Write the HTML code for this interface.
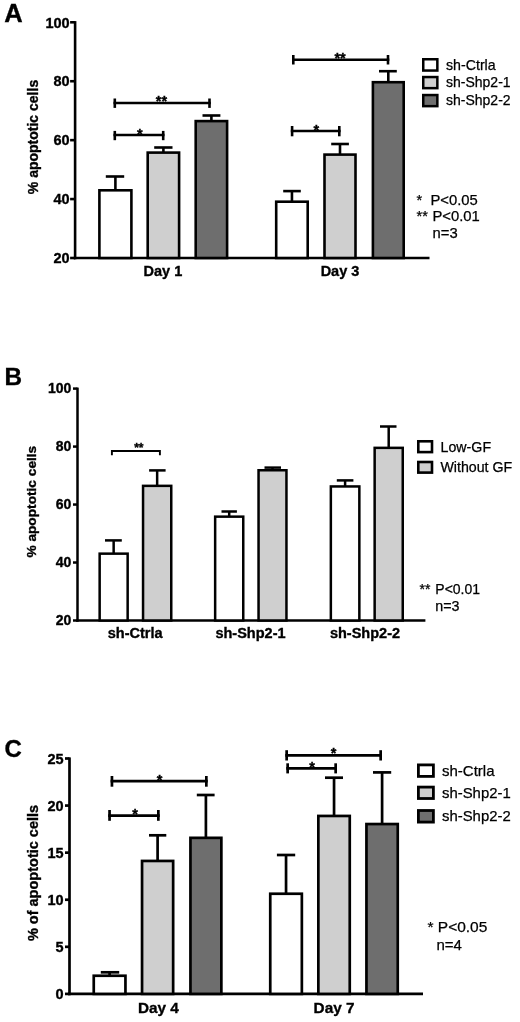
<!DOCTYPE html>
<html><head><meta charset="utf-8"><style>
html,body{margin:0;padding:0;background:#fff;}
svg{display:block;font-family:"Liberation Sans",sans-serif;}
#w{width:520px;height:1022px;overflow:hidden;filter:grayscale(1);}
text[font-weight="bold"]{stroke:#000;stroke-width:0.35px;}
text[font-weight="normal"]{stroke:#000;stroke-width:0.25px;}
</style></head><body><div id="w">
<svg width="520" height="1022" viewBox="0 0 520 1022">
<rect width="520" height="1022" fill="#fff"/>
<text x="4.20" y="21.90" font-size="25.5" font-weight="bold" text-anchor="start" >A</text>
<line x1="75.10" y1="21.10" x2="75.10" y2="259.30" stroke="#000" stroke-width="2.6" stroke-linecap="butt"/>
<line x1="70.10" y1="22.30" x2="75.10" y2="22.30" stroke="#000" stroke-width="2.6" stroke-linecap="butt"/>
<text x="69.60" y="27.50" font-size="14.5" font-weight="bold" text-anchor="end" >100</text>
<line x1="70.10" y1="81.22" x2="75.10" y2="81.22" stroke="#000" stroke-width="2.6" stroke-linecap="butt"/>
<text x="69.60" y="86.42" font-size="14.5" font-weight="bold" text-anchor="end" >80</text>
<line x1="70.10" y1="140.15" x2="75.10" y2="140.15" stroke="#000" stroke-width="2.6" stroke-linecap="butt"/>
<text x="69.60" y="145.35" font-size="14.5" font-weight="bold" text-anchor="end" >60</text>
<line x1="70.10" y1="199.07" x2="75.10" y2="199.07" stroke="#000" stroke-width="2.6" stroke-linecap="butt"/>
<text x="69.60" y="204.27" font-size="14.5" font-weight="bold" text-anchor="end" >40</text>
<line x1="70.10" y1="258.00" x2="75.10" y2="258.00" stroke="#000" stroke-width="2.6" stroke-linecap="butt"/>
<text x="69.60" y="263.20" font-size="14.5" font-weight="bold" text-anchor="end" >20</text>
<line x1="73.80" y1="258.00" x2="429.50" y2="258.00" stroke="#000" stroke-width="2.6" stroke-linecap="butt"/>
<line x1="115.40" y1="190.00" x2="115.40" y2="176.50" stroke="#000" stroke-width="2.6" stroke-linecap="butt"/>
<line x1="105.80" y1="176.50" x2="124.20" y2="176.50" stroke="#000" stroke-width="2.6" stroke-linecap="butt"/>
<line x1="163.40" y1="152.30" x2="163.40" y2="147.50" stroke="#000" stroke-width="2.6" stroke-linecap="butt"/>
<line x1="154.20" y1="147.50" x2="172.50" y2="147.50" stroke="#000" stroke-width="2.6" stroke-linecap="butt"/>
<line x1="211.40" y1="120.80" x2="211.40" y2="115.50" stroke="#000" stroke-width="2.6" stroke-linecap="butt"/>
<line x1="202.50" y1="115.50" x2="220.40" y2="115.50" stroke="#000" stroke-width="2.6" stroke-linecap="butt"/>
<line x1="291.95" y1="201.40" x2="291.95" y2="191.10" stroke="#000" stroke-width="2.6" stroke-linecap="butt"/>
<line x1="283.20" y1="191.10" x2="300.80" y2="191.10" stroke="#000" stroke-width="2.6" stroke-linecap="butt"/>
<line x1="340.00" y1="154.30" x2="340.00" y2="144.00" stroke="#000" stroke-width="2.6" stroke-linecap="butt"/>
<line x1="331.20" y1="144.00" x2="348.90" y2="144.00" stroke="#000" stroke-width="2.6" stroke-linecap="butt"/>
<line x1="388.30" y1="81.90" x2="388.30" y2="71.20" stroke="#000" stroke-width="2.6" stroke-linecap="butt"/>
<line x1="379.00" y1="71.20" x2="396.80" y2="71.20" stroke="#000" stroke-width="2.6" stroke-linecap="butt"/>
<rect x="99.40" y="190.30" width="32.00" height="67.70" fill="#fff" stroke="#000" stroke-width="2.6"/>
<rect x="147.70" y="152.60" width="31.40" height="105.40" fill="#cfcfcf" stroke="#000" stroke-width="2.6"/>
<rect x="195.70" y="121.10" width="31.40" height="136.90" fill="#6e6e6e" stroke="#000" stroke-width="2.6"/>
<rect x="276.20" y="201.70" width="31.50" height="56.30" fill="#fff" stroke="#000" stroke-width="2.6"/>
<rect x="324.50" y="154.60" width="31.00" height="103.40" fill="#cfcfcf" stroke="#000" stroke-width="2.6"/>
<rect x="372.90" y="82.20" width="30.80" height="175.80" fill="#6e6e6e" stroke="#000" stroke-width="2.6"/>
<line x1="113.50" y1="135.00" x2="164.50" y2="135.00" stroke="#000" stroke-width="2.6" stroke-linecap="butt"/>
<line x1="114.80" y1="130.90" x2="114.80" y2="140.20" stroke="#000" stroke-width="2.6" stroke-linecap="butt"/>
<line x1="163.20" y1="130.90" x2="163.20" y2="140.20" stroke="#000" stroke-width="2.6" stroke-linecap="butt"/>
<text x="139.80" y="138.52" font-size="14.5" font-weight="bold" text-anchor="middle" >*</text>
<line x1="113.50" y1="103.00" x2="210.80" y2="103.00" stroke="#000" stroke-width="2.6" stroke-linecap="butt"/>
<line x1="114.80" y1="98.50" x2="114.80" y2="107.90" stroke="#000" stroke-width="2.6" stroke-linecap="butt"/>
<line x1="209.50" y1="98.50" x2="209.50" y2="107.90" stroke="#000" stroke-width="2.6" stroke-linecap="butt"/>
<text x="161.50" y="105.92" font-size="14.5" font-weight="bold" text-anchor="middle" >**</text>
<line x1="290.80" y1="131.00" x2="340.60" y2="131.00" stroke="#000" stroke-width="2.6" stroke-linecap="butt"/>
<line x1="292.10" y1="126.00" x2="292.10" y2="136.30" stroke="#000" stroke-width="2.6" stroke-linecap="butt"/>
<line x1="339.30" y1="126.00" x2="339.30" y2="136.30" stroke="#000" stroke-width="2.6" stroke-linecap="butt"/>
<text x="316.40" y="134.62" font-size="14.5" font-weight="bold" text-anchor="middle" >*</text>
<line x1="292.00" y1="59.70" x2="389.30" y2="59.70" stroke="#000" stroke-width="2.6" stroke-linecap="butt"/>
<line x1="293.30" y1="55.00" x2="293.30" y2="64.50" stroke="#000" stroke-width="2.6" stroke-linecap="butt"/>
<line x1="388.00" y1="55.00" x2="388.00" y2="64.50" stroke="#000" stroke-width="2.6" stroke-linecap="butt"/>
<text x="340.10" y="62.92" font-size="14.5" font-weight="bold" text-anchor="middle" >**</text>
<text x="162.90" y="276.20" font-size="14.5" font-weight="bold" text-anchor="middle" >Day 1</text>
<text x="340.00" y="276.20" font-size="14.5" font-weight="bold" text-anchor="middle" >Day 3</text>
<text x="33.00" y="137.00" font-size="14" font-weight="bold" text-anchor="middle" transform="rotate(-90 33 137)" dy="5">% apoptotic cells</text>
<rect x="423.25" y="59.25" width="14.10" height="11.30" fill="#fff" stroke="#000" stroke-width="2.5"/>
<rect x="423.25" y="77.05" width="14.10" height="11.10" fill="#cfcfcf" stroke="#000" stroke-width="2.5"/>
<rect x="423.25" y="95.05" width="14.10" height="11.10" fill="#6e6e6e" stroke="#000" stroke-width="2.5"/>
<text x="446.00" y="69.60" font-size="14.2" font-weight="normal" text-anchor="start" >sh-Ctrla</text>
<text x="446.00" y="87.20" font-size="14.0" font-weight="normal" text-anchor="start" >sh-Shp2-1</text>
<text x="446.00" y="104.80" font-size="14.0" font-weight="normal" text-anchor="start" >sh-Shp2-2</text>
<text x="416.60" y="204.60" font-size="14.5" font-weight="normal" text-anchor="start" >*</text>
<text x="430.50" y="205.00" font-size="14.8" font-weight="normal" text-anchor="start" >P&lt;0.05</text>
<text x="416.60" y="221.00" font-size="14.5" font-weight="normal" text-anchor="start" >**</text>
<text x="432.50" y="221.30" font-size="14.8" font-weight="normal" text-anchor="start" >P&lt;0.01</text>
<text x="432.60" y="237.70" font-size="14.8" font-weight="normal" text-anchor="start" >n=3</text>
<text x="4.60" y="384.90" font-size="24.3" font-weight="bold" text-anchor="start" >B</text>
<line x1="77.50" y1="387.60" x2="77.50" y2="621.75" stroke="#000" stroke-width="2.5" stroke-linecap="butt"/>
<line x1="73.00" y1="388.60" x2="77.50" y2="388.60" stroke="#000" stroke-width="2.5" stroke-linecap="butt"/>
<text x="71.40" y="393.40" font-size="14" font-weight="bold" text-anchor="end" >100</text>
<line x1="73.00" y1="446.58" x2="77.50" y2="446.58" stroke="#000" stroke-width="2.5" stroke-linecap="butt"/>
<text x="71.40" y="451.38" font-size="14" font-weight="bold" text-anchor="end" >80</text>
<line x1="73.00" y1="504.55" x2="77.50" y2="504.55" stroke="#000" stroke-width="2.5" stroke-linecap="butt"/>
<text x="71.40" y="509.35" font-size="14" font-weight="bold" text-anchor="end" >60</text>
<line x1="73.00" y1="562.52" x2="77.50" y2="562.52" stroke="#000" stroke-width="2.5" stroke-linecap="butt"/>
<text x="71.40" y="567.32" font-size="14" font-weight="bold" text-anchor="end" >40</text>
<line x1="73.00" y1="620.50" x2="77.50" y2="620.50" stroke="#000" stroke-width="2.5" stroke-linecap="butt"/>
<text x="71.40" y="625.30" font-size="14" font-weight="bold" text-anchor="end" >20</text>
<line x1="76.25" y1="620.50" x2="425.40" y2="620.50" stroke="#000" stroke-width="2.5" stroke-linecap="butt"/>
<line x1="113.65" y1="553.40" x2="113.65" y2="540.40" stroke="#000" stroke-width="2.5" stroke-linecap="butt"/>
<line x1="105.00" y1="540.40" x2="121.80" y2="540.40" stroke="#000" stroke-width="2.5" stroke-linecap="butt"/>
<line x1="157.15" y1="485.60" x2="157.15" y2="470.40" stroke="#000" stroke-width="2.5" stroke-linecap="butt"/>
<line x1="149.10" y1="470.40" x2="165.60" y2="470.40" stroke="#000" stroke-width="2.5" stroke-linecap="butt"/>
<line x1="229.20" y1="516.40" x2="229.20" y2="511.50" stroke="#000" stroke-width="2.5" stroke-linecap="butt"/>
<line x1="221.50" y1="511.50" x2="236.90" y2="511.50" stroke="#000" stroke-width="2.5" stroke-linecap="butt"/>
<line x1="272.50" y1="470.00" x2="272.50" y2="467.60" stroke="#000" stroke-width="2.5" stroke-linecap="butt"/>
<line x1="264.50" y1="467.60" x2="281.00" y2="467.60" stroke="#000" stroke-width="2.5" stroke-linecap="butt"/>
<line x1="345.10" y1="486.20" x2="345.10" y2="480.40" stroke="#000" stroke-width="2.5" stroke-linecap="butt"/>
<line x1="336.80" y1="480.40" x2="353.40" y2="480.40" stroke="#000" stroke-width="2.5" stroke-linecap="butt"/>
<line x1="388.70" y1="447.60" x2="388.70" y2="426.50" stroke="#000" stroke-width="2.5" stroke-linecap="butt"/>
<line x1="380.00" y1="426.50" x2="396.50" y2="426.50" stroke="#000" stroke-width="2.5" stroke-linecap="butt"/>
<rect x="99.65" y="553.65" width="28.00" height="66.85" fill="#fff" stroke="#000" stroke-width="2.5"/>
<rect x="143.05" y="485.85" width="28.20" height="134.65" fill="#cfcfcf" stroke="#000" stroke-width="2.5"/>
<rect x="215.15" y="516.65" width="28.10" height="103.85" fill="#fff" stroke="#000" stroke-width="2.5"/>
<rect x="258.55" y="470.25" width="27.90" height="150.25" fill="#cfcfcf" stroke="#000" stroke-width="2.5"/>
<rect x="330.85" y="486.45" width="28.50" height="134.05" fill="#fff" stroke="#000" stroke-width="2.5"/>
<rect x="374.65" y="447.85" width="28.10" height="172.65" fill="#cfcfcf" stroke="#000" stroke-width="2.5"/>
<path d="M111.9 455.2 V451 H159.9 V455.2" fill="none" stroke="#000" stroke-width="1.9"/>
<text x="138.80" y="451.52" font-size="12" font-weight="bold" text-anchor="middle" >**</text>
<text x="135.20" y="638.30" font-size="14.5" font-weight="bold" text-anchor="middle" >sh-Ctrla</text>
<text x="250.50" y="638.30" font-size="14.5" font-weight="bold" text-anchor="middle" >sh-Shp2-1</text>
<text x="365.00" y="638.30" font-size="14.5" font-weight="bold" text-anchor="middle" >sh-Shp2-2</text>
<text x="30.80" y="501.70" font-size="13.7" font-weight="bold" text-anchor="middle" transform="rotate(-90 30.8 501.7)" dy="5">% apoptotic cells</text>
<rect x="418.30" y="441.30" width="13.70" height="10.80" fill="#fff" stroke="#000" stroke-width="2.6"/>
<rect x="418.30" y="462.00" width="13.70" height="10.60" fill="#cfcfcf" stroke="#000" stroke-width="2.6"/>
<text x="440.60" y="451.60" font-size="14.2" font-weight="normal" text-anchor="start" >Low-GF</text>
<text x="440.40" y="472.20" font-size="14.2" font-weight="normal" text-anchor="start" >Without GF</text>
<text x="419.60" y="594.20" font-size="14" font-weight="normal" text-anchor="start" >**</text>
<text x="435.30" y="594.20" font-size="14.0" font-weight="normal" text-anchor="start" >P&lt;0.01</text>
<text x="435.30" y="611.00" font-size="14.3" font-weight="normal" text-anchor="start" >n=3</text>
<text x="4.50" y="757.00" font-size="24" font-weight="bold" text-anchor="start" >C</text>
<line x1="69.50" y1="757.40" x2="69.50" y2="995.25" stroke="#000" stroke-width="2.7" stroke-linecap="butt"/>
<line x1="65.00" y1="758.50" x2="69.50" y2="758.50" stroke="#000" stroke-width="2.7" stroke-linecap="butt"/>
<text x="63.60" y="763.70" font-size="14.5" font-weight="bold" text-anchor="end" >25</text>
<line x1="65.00" y1="805.58" x2="69.50" y2="805.58" stroke="#000" stroke-width="2.7" stroke-linecap="butt"/>
<text x="63.60" y="810.78" font-size="14.5" font-weight="bold" text-anchor="end" >20</text>
<line x1="65.00" y1="852.66" x2="69.50" y2="852.66" stroke="#000" stroke-width="2.7" stroke-linecap="butt"/>
<text x="63.60" y="857.86" font-size="14.5" font-weight="bold" text-anchor="end" >15</text>
<line x1="65.00" y1="899.74" x2="69.50" y2="899.74" stroke="#000" stroke-width="2.7" stroke-linecap="butt"/>
<text x="63.60" y="904.94" font-size="14.5" font-weight="bold" text-anchor="end" >10</text>
<line x1="65.00" y1="946.82" x2="69.50" y2="946.82" stroke="#000" stroke-width="2.7" stroke-linecap="butt"/>
<text x="63.60" y="952.02" font-size="14.5" font-weight="bold" text-anchor="end" >5</text>
<line x1="65.00" y1="993.90" x2="69.50" y2="993.90" stroke="#000" stroke-width="2.7" stroke-linecap="butt"/>
<text x="63.60" y="999.10" font-size="14.5" font-weight="bold" text-anchor="end" >0</text>
<line x1="68.15" y1="993.90" x2="423.00" y2="993.90" stroke="#000" stroke-width="2.7" stroke-linecap="butt"/>
<line x1="109.60" y1="975.40" x2="109.60" y2="972.30" stroke="#000" stroke-width="2.7" stroke-linecap="butt"/>
<line x1="100.80" y1="972.30" x2="119.20" y2="972.30" stroke="#000" stroke-width="2.7" stroke-linecap="butt"/>
<line x1="157.60" y1="860.60" x2="157.60" y2="835.30" stroke="#000" stroke-width="2.7" stroke-linecap="butt"/>
<line x1="149.00" y1="835.30" x2="166.30" y2="835.30" stroke="#000" stroke-width="2.7" stroke-linecap="butt"/>
<line x1="205.90" y1="837.50" x2="205.90" y2="795.00" stroke="#000" stroke-width="2.7" stroke-linecap="butt"/>
<line x1="196.80" y1="795.00" x2="214.60" y2="795.00" stroke="#000" stroke-width="2.7" stroke-linecap="butt"/>
<line x1="286.05" y1="893.40" x2="286.05" y2="855.00" stroke="#000" stroke-width="2.7" stroke-linecap="butt"/>
<line x1="276.90" y1="855.00" x2="295.20" y2="855.00" stroke="#000" stroke-width="2.7" stroke-linecap="butt"/>
<line x1="334.05" y1="815.60" x2="334.05" y2="777.70" stroke="#000" stroke-width="2.7" stroke-linecap="butt"/>
<line x1="325.00" y1="777.70" x2="343.00" y2="777.70" stroke="#000" stroke-width="2.7" stroke-linecap="butt"/>
<line x1="382.10" y1="823.70" x2="382.10" y2="772.40" stroke="#000" stroke-width="2.7" stroke-linecap="butt"/>
<line x1="373.00" y1="772.40" x2="391.20" y2="772.40" stroke="#000" stroke-width="2.7" stroke-linecap="butt"/>
<rect x="93.75" y="975.75" width="31.70" height="18.15" fill="#fff" stroke="#000" stroke-width="2.7"/>
<rect x="142.05" y="860.95" width="31.10" height="132.95" fill="#cfcfcf" stroke="#000" stroke-width="2.7"/>
<rect x="190.45" y="837.85" width="30.90" height="156.05" fill="#6e6e6e" stroke="#000" stroke-width="2.7"/>
<rect x="270.25" y="893.75" width="31.60" height="100.15" fill="#fff" stroke="#000" stroke-width="2.7"/>
<rect x="318.35" y="815.95" width="31.40" height="177.95" fill="#cfcfcf" stroke="#000" stroke-width="2.7"/>
<rect x="366.45" y="824.05" width="31.30" height="169.85" fill="#6e6e6e" stroke="#000" stroke-width="2.7"/>
<line x1="110.60" y1="781.20" x2="207.70" y2="781.20" stroke="#000" stroke-width="2.7" stroke-linecap="butt"/>
<line x1="111.95" y1="776.00" x2="111.95" y2="786.70" stroke="#000" stroke-width="2.7" stroke-linecap="butt"/>
<line x1="206.35" y1="776.00" x2="206.35" y2="786.70" stroke="#000" stroke-width="2.7" stroke-linecap="butt"/>
<text x="159.70" y="785.22" font-size="14.5" font-weight="bold" text-anchor="middle" >*</text>
<line x1="108.20" y1="815.70" x2="159.70" y2="815.70" stroke="#000" stroke-width="2.7" stroke-linecap="butt"/>
<line x1="109.55" y1="810.00" x2="109.55" y2="820.80" stroke="#000" stroke-width="2.7" stroke-linecap="butt"/>
<line x1="158.35" y1="810.00" x2="158.35" y2="820.80" stroke="#000" stroke-width="2.7" stroke-linecap="butt"/>
<text x="135.00" y="819.32" font-size="14.5" font-weight="bold" text-anchor="middle" >*</text>
<line x1="285.30" y1="755.40" x2="382.00" y2="755.40" stroke="#000" stroke-width="2.7" stroke-linecap="butt"/>
<line x1="286.65" y1="750.20" x2="286.65" y2="760.50" stroke="#000" stroke-width="2.7" stroke-linecap="butt"/>
<line x1="380.65" y1="750.20" x2="380.65" y2="760.50" stroke="#000" stroke-width="2.7" stroke-linecap="butt"/>
<text x="333.70" y="758.32" font-size="14.5" font-weight="bold" text-anchor="middle" >*</text>
<line x1="286.30" y1="768.30" x2="337.00" y2="768.30" stroke="#000" stroke-width="2.7" stroke-linecap="butt"/>
<line x1="287.65" y1="763.30" x2="287.65" y2="773.40" stroke="#000" stroke-width="2.7" stroke-linecap="butt"/>
<line x1="335.65" y1="763.30" x2="335.65" y2="773.40" stroke="#000" stroke-width="2.7" stroke-linecap="butt"/>
<text x="312.20" y="772.22" font-size="14.5" font-weight="bold" text-anchor="middle" >*</text>
<text x="158.30" y="1012.50" font-size="15.3" font-weight="bold" text-anchor="middle" >Day 4</text>
<text x="334.00" y="1012.50" font-size="15.3" font-weight="bold" text-anchor="middle" >Day 7</text>
<text x="33.20" y="873.00" font-size="14.5" font-weight="bold" text-anchor="middle" transform="rotate(-90 33.2 873)" dy="5">% of apoptotic cells</text>
<rect x="418.40" y="764.90" width="15.00" height="11.50" fill="#fff" stroke="#000" stroke-width="2.8"/>
<rect x="418.40" y="787.10" width="15.00" height="11.40" fill="#cfcfcf" stroke="#000" stroke-width="2.8"/>
<rect x="418.40" y="810.50" width="15.00" height="11.60" fill="#6e6e6e" stroke="#000" stroke-width="2.8"/>
<text x="442.00" y="776.30" font-size="15.0" font-weight="normal" text-anchor="start" >sh-Ctrla</text>
<text x="442.00" y="798.40" font-size="14.9" font-weight="normal" text-anchor="start" >sh-Shp2-1</text>
<text x="442.00" y="820.50" font-size="14.9" font-weight="normal" text-anchor="start" >sh-Shp2-2</text>
<text x="427.40" y="932.20" font-size="15.5" font-weight="normal" text-anchor="start" >*</text>
<text x="437.80" y="932.20" font-size="15.5" font-weight="normal" text-anchor="start" >P&lt;0.05</text>
<text x="436.50" y="950.20" font-size="15.0" font-weight="normal" text-anchor="start" >n=4</text>
</svg></div>
</body></html>
